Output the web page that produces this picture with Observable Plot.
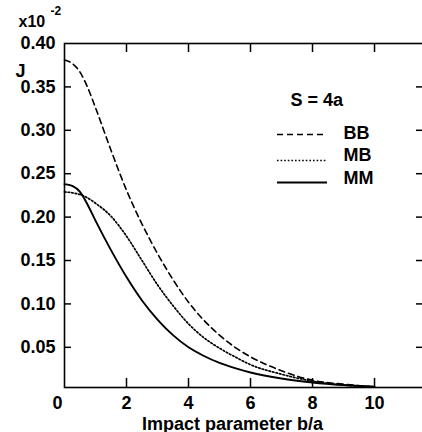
<!DOCTYPE html>
<html><head><meta charset="utf-8">
<script src="https://cdn.jsdelivr.net/npm/d3@7"></script>
<script src="https://cdn.jsdelivr.net/npm/@observablehq/plot@0.6"></script>
<style>html,body{margin:0;padding:0;background:#fff} svg{display:block}</style>
</head><body><div id="chart"></div>
<script>
// ---- data ----
const impactB = [0, 0.25, 0.5, 0.75, 1, 1.5, 2, 2.5, 3, 3.5, 4, 4.5, 5, 5.5, 6, 7, 8, 9, 10];
const jBB = [0.381, 0.377, 0.367, 0.349, 0.326, 0.277, 0.231, 0.192, 0.158, 0.128, 0.102, 0.081, 0.064, 0.050, 0.039, 0.023, 0.012, 0.0075, 0.0045];
const jMB = [0.229, 0.228, 0.226, 0.222, 0.216, 0.201, 0.178, 0.150, 0.122, 0.098, 0.077, 0.061, 0.049, 0.039, 0.030, 0.019, 0.011, 0.0065, 0.0045];
const jMM = [0.238, 0.236, 0.229, 0.214, 0.196, 0.162, 0.131, 0.104, 0.082, 0.064, 0.050, 0.040, 0.032, 0.026, 0.021, 0.014, 0.0095, 0.0065, 0.0045];
const seriesNames = ["BB", "MB", "MM"];
const xTicks = [2, 4, 6, 8, 10];
const yTicks = [0.05, 0.10, 0.15, 0.20, 0.25, 0.30, 0.35];
const yTickLabels = [0.05, 0.10, 0.15, 0.20, 0.25, 0.30, 0.35, 0.40];
const titleText = "S = 4a";
const xLabel = "Impact parameter b/a";
const yLabel = "J";
const yUnit = "x10";
const yUnitExp = "-2";

// ---- layout ----
const W = 422, H = 432;
const mL = 64, mR = -1, mT = 43, mB = 45;
const xDomain = [0, 11.58];
const yDomain = [0.0037, 0.40];
const frameW = W - mL - mR, frameH = H - mT - mB;
const px2x = px => xDomain[0] + (px - mL) / frameW * (xDomain[1] - xDomain[0]);
const px2y = py => yDomain[0] + (H - mB - py) / frameH * (yDomain[1] - yDomain[0]);

const valuesBySeries = {BB: jBB, MB: jMB, MM: jMM};
const styleBySeries = {
  BB: {strokeDasharray: "6,4", strokeWidth: 1.6},
  MB: {strokeDasharray: "1.6,2", strokeWidth: 1.7},
  MM: {strokeDasharray: null, strokeWidth: 1.9}
};
const legendLineY = {BB: 134, MB: 160, MM: 182};
const legendTextY = {BB: 133, MB: 155, MM: 178};

const marks = [];
for (const s of seriesNames) {
  const rows = impactB.map((b, i) => ({b, j: valuesBySeries[s][i]}));
  marks.push(Plot.line(rows, {x: "b", y: "j", stroke: "black", curve: "monotone-x", ...styleBySeries[s]}));
  marks.push(Plot.ruleY([px2y(legendLineY[s])], {x1: px2x(277), x2: px2x(327), stroke: "black", ...styleBySeries[s]}));
  marks.push(Plot.text([s], {frameAnchor: "top-left", dx: 343 - mL, dy: legendTextY[s] - mT, textAnchor: "start", lineAnchor: "middle"}));
}

const sw = 1.5;
marks.push(
  Plot.frame({stroke: "black", strokeWidth: 1.6}),
  Plot.tickX(xTicks, {x: d => d, insetTop: frameH - 9, strokeWidth: sw}),
  Plot.tickX(xTicks, {x: d => d, insetBottom: frameH - 9, strokeWidth: sw}),
  Plot.tickY(yTicks, {y: d => d, insetRight: frameW - 7, strokeWidth: sw}),
  Plot.tickY(yTicks, {y: d => d, insetLeft: frameW - 7, strokeWidth: sw}),
  Plot.axisX(xTicks, {tickSize: 0, tickPadding: 8.5, label: null}),
  Plot.axisY(yTickLabels, {tickSize: 0, tickPadding: 9, tickFormat: d3.format(".2f"), label: null}),
  Plot.text(["0"], {frameAnchor: "bottom-left", dx: -12, dy: 8.5, lineAnchor: "top"}),
  Plot.text([xLabel], {frameAnchor: "bottom", dx: -11.5, dy: 42, lineAnchor: "bottom", fontSize: 18}),
  Plot.text([yLabel], {frameAnchor: "top-left", dx: -49, dy: 33, textAnchor: "start", lineAnchor: "bottom"}),
  Plot.text([yUnit], {frameAnchor: "top-left", dx: -46, dy: -17, textAnchor: "start", lineAnchor: "bottom", fontSize: 16}),
  Plot.text([yUnitExp], {frameAnchor: "top-left", dx: -14, dy: -29, textAnchor: "start", lineAnchor: "bottom", fontSize: 12}),
  Plot.text([titleText], {frameAnchor: "top-left", dx: 290 - mL, dy: 105 - mT, textAnchor: "start", lineAnchor: "bottom"})
);

const chart = Plot.plot({
  width: W, height: H,
  marginLeft: mL, marginRight: mR, marginTop: mT, marginBottom: mB,
  x: {domain: xDomain},
  y: {domain: yDomain},
  style: {fontFamily: "'Liberation Sans', Arial, sans-serif", fontSize: "18px", fontWeight: "bold", color: "black", background: "white", overflow: "hidden"},
  marks
});
document.getElementById("chart").append(chart);
</script>
</body></html>
